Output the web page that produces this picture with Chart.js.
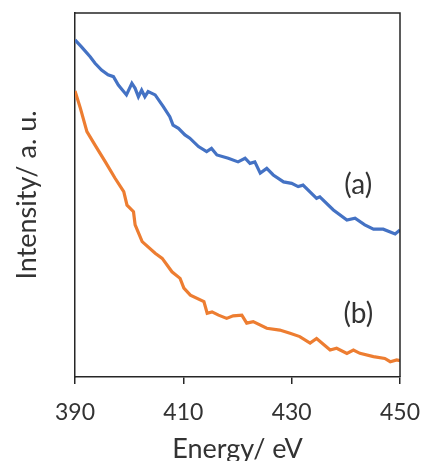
<!DOCTYPE html>
<html>

<head>
    <title>Intensity vs Energy</title>
    <style>
        body { margin: 0; background: #fff; }
        #grafico { display: block; }
    </style>
</head>

<body>
    <canvas id="grafico" width="422" height="461"></canvas>

    <script src="https://cdn.jsdelivr.net/npm/chart.js"></script>

    <script>
        // Curve (a) - energy (eV) and intensity (a.u.)
        var energiaA = [390.0, 391.2, 392.8, 393.7, 394.9, 396.1, 397.1, 398.0, 399.5, 400.5, 401.1, 401.7, 402.3, 402.9, 403.5, 404.8,
            406.3, 407.5, 408.1, 409.1, 410.3, 411.2, 412.8, 414.3, 415.2, 416.2, 418.3, 420.1, 421.4, 422.3, 423.2, 424.2,
            425.4, 426.6, 428.5, 430.0, 431.2, 432.1, 434.6, 435.2, 437.7, 440.2, 441.7, 443.5, 445.1, 446.9, 449.1, 450.0];
        var intensidadeA = [92.6, 90.7, 88.0, 86.2, 84.3, 83.0, 82.5, 80.2, 77.5, 80.7, 79.3, 77.0, 78.8, 77.0, 78.4, 77.5,
            74.3, 71.5, 69.2, 68.3, 66.5, 65.6, 63.3, 61.9, 62.8, 61.0, 60.1, 59.1, 60.1, 58.7, 59.1, 56.0,
            57.3, 55.5, 53.6, 53.2, 52.3, 52.7, 49.1, 49.5, 45.9, 43.1, 43.6, 41.8, 40.6, 40.6, 39.3, 40.4];

        // Curve (b)
        var energiaB = [390.0, 391.0, 392.2, 393.7, 395.6, 397.4, 399.0, 399.6, 400.8, 401.1, 402.4, 404.8, 406.1, 407.9, 409.4, 410.1,
            411.3, 413.8, 414.4, 415.3, 416.5, 418.0, 419.2, 420.8, 421.7, 422.9, 425.4, 427.8, 429.7, 431.5, 433.4, 434.6,
            437.1, 438.3, 440.2, 441.4, 442.6, 445.1, 447.2, 448.2, 449.4, 450.0];
        var intensidadeB = [78.6, 73.8, 67.4, 63.7, 59.1, 54.6, 50.9, 47.2, 45.4, 41.8, 37.2, 34.0, 32.6, 28.9, 27.1, 24.4,
            22.5, 20.7, 17.5, 17.9, 17.0, 16.1, 16.8, 17.0, 14.8, 15.2, 13.4, 12.9, 12.0, 11.1, 9.3, 10.6,
            7.4, 7.9, 6.5, 7.4, 6.5, 5.6, 5.1, 4.2, 4.7, 4.5];

        var ticksX = [390, 410, 430, 450];

        // Curve labels
        var rotulos = ["(a)", "(b)"];
        var rotuloX = [442.3, 442.3];
        var rotuloY = [52.7, 17.3];

        function pontos(xs, ys) {
            return xs.map(function (x, i) { return { x: x, y: ys[i] }; });
        }

        var corEixo = "#262626";
        var corTexto = "#333333";
        var fonte = "Lato, 'Open Sans', sans-serif";

        // frame on top/right + curve labels
        var extras = {
            id: "extras",
            afterDatasetsDraw: function (chart) {
                var ctx = chart.ctx;
                var a = chart.chartArea;
                ctx.save();
                ctx.strokeStyle = corEixo;
                ctx.lineWidth = 1.5;
                ctx.beginPath();
                ctx.moveTo(a.left, a.top);
                ctx.lineTo(a.right, a.top);
                ctx.lineTo(a.right, a.bottom);
                ctx.stroke();

                ctx.fillStyle = corTexto;
                ctx.font = "28px " + fonte;
                ctx.textAlign = "center";
                ctx.textBaseline = "middle";
                for (var i = 0; i < rotulos.length; i++) {
                    ctx.fillText(rotulos[i],
                        chart.scales.x.getPixelForValue(rotuloX[i]),
                        chart.scales.y.getPixelForValue(rotuloY[i]));
                }
                ctx.restore();
            }
        };

        new Chart(document.getElementById("grafico"), {
            type: "line",
            data: {
                datasets: [
                    {
                        label: "(a)",
                        data: pontos(energiaA, intensidadeA),
                        borderColor: "#4472C4",
                        borderWidth: 3.2,
                        pointRadius: 0,
                        tension: 0
                    },
                    {
                        label: "(b)",
                        data: pontos(energiaB, intensidadeB),
                        borderColor: "#ED7D31",
                        borderWidth: 3.2,
                        pointRadius: 0,
                        tension: 0
                    }
                ]
            },
            options: {
                responsive: false,
                animation: false,
                layout: { padding: { top: 13, right: 22, left: 0, bottom: 0 } },
                plugins: { legend: { display: false }, tooltip: { enabled: false } },
                scales: {
                    x: {
                        type: "linear",
                        min: 390,
                        max: 450,
                        afterBuildTicks: function (scale) {
                            scale.ticks = ticksX.map(function (v) { return { value: v }; });
                        },
                        afterFit: function (scale) {
                            scale.height = 84;
                            scale.paddingLeft = 0;
                            scale.paddingRight = 0;
                        },
                        grid: { display: true, drawOnChartArea: false, drawTicks: true, tickLength: 7, color: corEixo, lineWidth: 1.5 },
                        border: { display: true, color: corEixo, width: 1.5 },
                        ticks: { color: corTexto, font: { family: fonte, size: 23 }, padding: 15, maxRotation: 0 },
                        title: { display: true, text: "Energy/ eV", color: corTexto, font: { family: fonte, size: 27 }, padding: { top: 0, bottom: -4 } }
                    },
                    y: {
                        type: "linear",
                        min: 0,
                        max: 100,
                        afterFit: function (scale) { scale.width = 75; },
                        grid: { display: false, drawTicks: false },
                        border: { display: true, color: corEixo, width: 1.5 },
                        ticks: { display: false },
                        title: { display: true, text: "Intensity/ a. u.", color: corTexto, font: { family: fonte, size: 27 }, padding: { top: 11, bottom: 0 } }
                    }
                }
            },
            plugins: [extras]
        });
    </script>
</body>

</html>
